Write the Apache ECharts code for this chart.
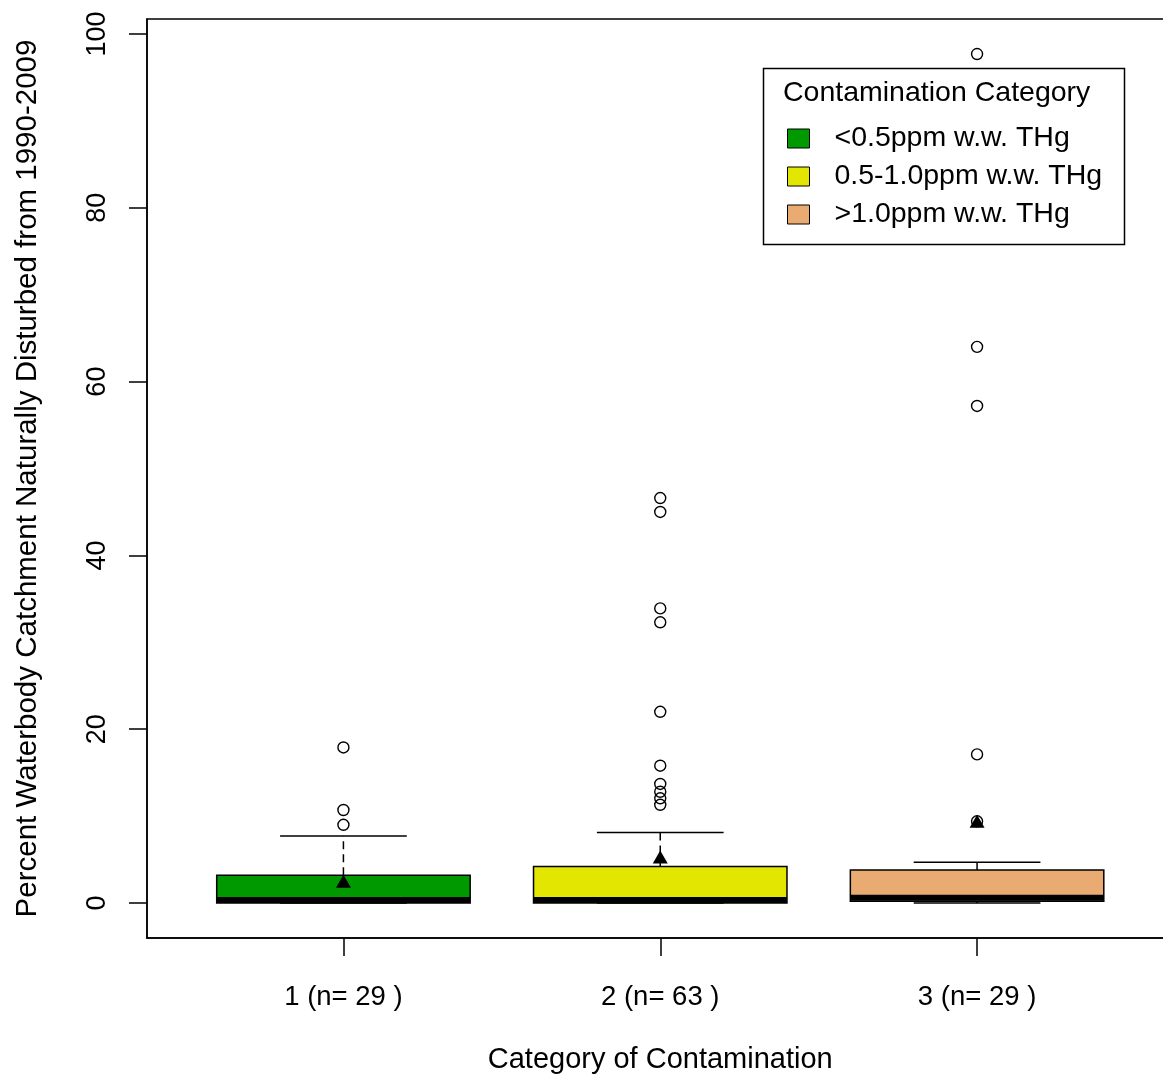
<!DOCTYPE html>
<html><head><meta charset="utf-8">
<script src="https://cdn.jsdelivr.net/npm/echarts@6/dist/echarts.min.js"></script>
<style>html,body{margin:0;padding:0;background:#fff;overflow:hidden;width:1163px;height:1084px}#c{width:1174px;height:1084px}</style>
</head><body><div id="c"></div>
<script>
const categories = ['1 (n= 29 )', '2 (n= 63 )', '3 (n= 29 )'];
const seriesNames = ['<0.5ppm w.w. THg', '0.5-1.0ppm w.w. THg', '>1.0ppm w.w. THg'];
const xPositions = [1, 2, 3];
const lowerWhisker = [0, 0, 0];
const q1 = [0, 0, 0.2];
const median = [0.35, 0.35, 0.6];
const q3 = [3.2, 4.2, 3.8];
const upperWhisker = [7.7, 8.1, 4.7];
const means = [2.5, 5.3, 9.4];
const outliers1 = [9.0, 10.7, 17.9];
const outliers2 = [11.3, 12.05, 12.8, 13.7, 15.8, 22.0, 32.3, 33.9, 45.0, 46.6];
const outliers3 = [9.4, 17.1, 57.2, 64.0, 97.7];
const yTicks = [0, 20, 40, 60, 80, 100];
const colors = ['#009A00', '#E3E600', '#EAAB72'];
const FONT = '"Liberation Sans", Arial, sans-serif';

function renderBox(params, api) {
  const x = api.value(0);
  const lw = api.value(1), a = api.value(2), m = api.value(3), b = api.value(4), uw = api.value(5);
  const L = api.coord([x - 0.4, 0])[0], R = api.coord([x + 0.4, 0])[0];
  const sL = api.coord([x - 0.2, 0])[0], sR = api.coord([x + 0.2, 0])[0];
  const cx = api.coord([x, 0])[0];
  const yA = api.coord([x, a])[1], yB = api.coord([x, b])[1], yM = api.coord([x, m])[1];
  const yLW = api.coord([x, lw])[1], yUW = api.coord([x, uw])[1];
  const ls = { stroke: '#000', lineWidth: 1.5 };
  return { type: 'group', children: [
    { type: 'line', shape: { x1: cx, y1: yB, x2: cx, y2: yUW }, style: Object.assign({ lineDash: [8, 5] }, ls) },
    { type: 'line', shape: { x1: sL, y1: yUW, x2: sR, y2: yUW }, style: ls },
    { type: 'line', shape: { x1: cx, y1: yA, x2: cx, y2: yLW }, style: Object.assign({ lineDash: [8, 5] }, ls) },
    { type: 'line', shape: { x1: sL, y1: yLW, x2: sR, y2: yLW }, style: ls },
    { type: 'rect', shape: { x: L, y: yB, width: R - L, height: yA - yB }, style: { fill: api.visual('color'), stroke: '#000', lineWidth: 1.5 } },
    { type: 'line', shape: { x1: L, y1: yM, x2: R, y2: yM }, style: { stroke: '#000', lineWidth: 6 } }
  ] };
}

const outlierData = [];
[outliers1, outliers2, outliers3].forEach((arr, i) => arr.forEach(v => outlierData.push([xPositions[i], v])));
const meanData = means.map((v, i) => [xPositions[i], v]);

const series = categories.map((c, i) => ({
  type: 'custom', name: seriesNames[i], renderItem: renderBox,
  itemStyle: { color: colors[i], borderColor: '#000', borderWidth: 1 },
  encode: { x: 0, y: [1, 2, 3, 4, 5] },
  data: [[xPositions[i], lowerWhisker[i], q1[i], median[i], q3[i], upperWhisker[i]]],
  z: 2
}));
series.push({
  type: 'scatter', name: 'outliers', data: outlierData, symbol: 'circle', symbolSize: 11,
  itemStyle: { color: 'rgba(255,255,255,0)', borderColor: '#000', borderWidth: 1.4, opacity: 1 }, z: 3
});
series.push({
  type: 'scatter', name: 'means', data: meanData, symbol: 'triangle', symbolSize: [15, 13],
  itemStyle: { color: '#000', opacity: 1 }, z: 4
});

const chart = echarts.init(document.getElementById('c'), null, { renderer: 'canvas' });
chart.setOption({
  animation: false,
  backgroundColor: '#fff',
  grid: { left: 147, top: 19, right: 0.5, bottom: 146, show: true, borderColor: '#000', borderWidth: 1.5, backgroundColor: 'transparent' },
  xAxis: {
    type: 'value', min: 0.38, max: 3.62,
    axisLine: { show: true, onZero: false, lineStyle: { color: '#000', width: 1.5 } },
    axisTick: { show: true, length: 18, customValues: xPositions, lineStyle: { color: '#000', width: 1.5 } },
    axisLabel: { customValues: xPositions, formatter: v => categories[Math.round(v) - 1], margin: 45, fontSize: 27.5, color: '#000', fontFamily: FONT },
    splitLine: { show: false },
    name: 'Category of Contamination', nameLocation: 'middle', nameGap: 107,
    nameTextStyle: { fontSize: 29, color: '#000', fontFamily: FONT }
  },
  yAxis: {
    type: 'value', min: -4.03, max: 101.73,
    axisLine: { show: true, onZero: false, lineStyle: { color: '#000', width: 1.5 } },
    axisTick: { show: true, length: 18, customValues: yTicks, lineStyle: { color: '#000', width: 1.5 } },
    axisLabel: { customValues: yTicks, rotate: 90, margin: 36, fontSize: 27, color: '#000', fontFamily: FONT },
    splitLine: { show: false },
    name: 'Percent Waterbody Catchment Naturally Disturbed from 1990-2009', nameLocation: 'middle', nameGap: 104,
    nameTextStyle: { fontSize: 29.5, color: '#000', fontFamily: FONT }
  },
  legend: {
    data: seriesNames, orient: 'vertical', left: 787, top: 124, padding: 0,
    itemWidth: 22, itemHeight: 19, itemGap: 9, icon: 'rect', selectedMode: false,
    itemStyle: { borderColor: '#000', borderWidth: 1 },
    textStyle: { fontSize: 28.5, lineHeight: 28, color: '#000', fontFamily: FONT, padding: [0, 0, 0, 20] }
  },
  graphic: [
    { type: 'rect', left: 761, top: 66, shape: { width: 361, height: 176 }, style: { fill: 'none', stroke: '#000', lineWidth: 1.5 }, z: 10 },
    { type: 'text', left: 783, top: 79, style: { text: 'Contamination Category', font: '28.5px ' + FONT, fill: '#000' }, z: 10 }
  ],
  series: series
});
</script>
</body></html>
